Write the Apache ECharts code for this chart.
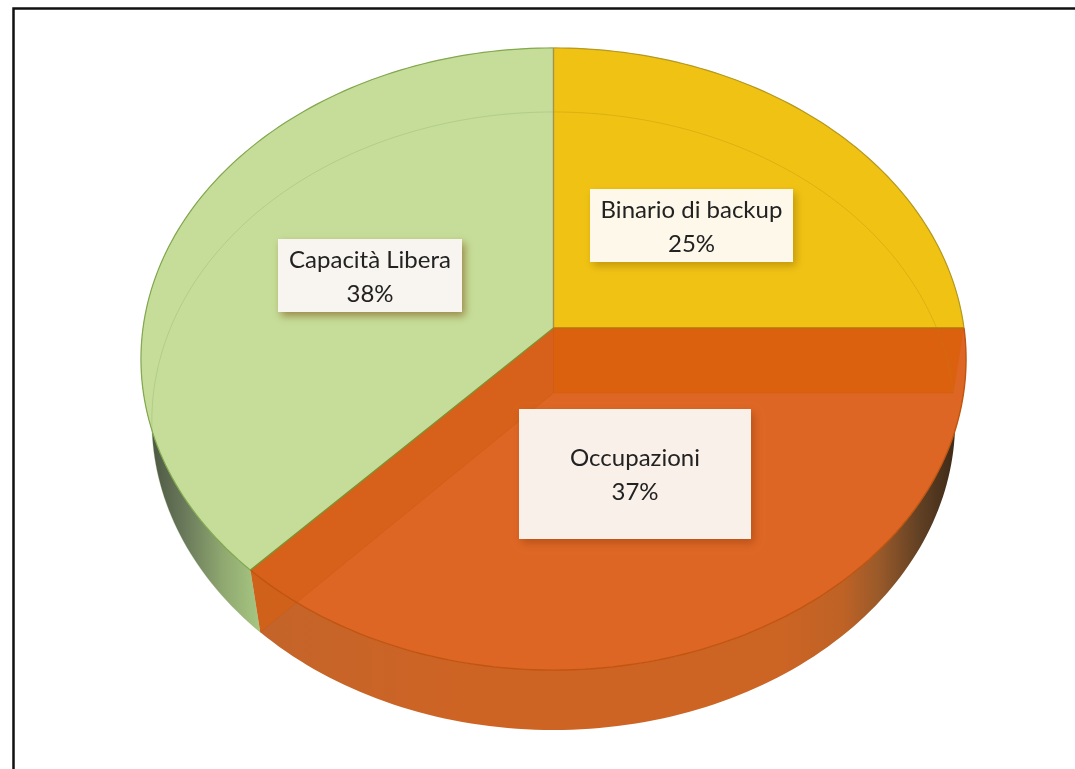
<!DOCTYPE html>
<html>
<head>
<meta charset="utf-8">
<style>html,body{margin:0;padding:0;background:#fff}#c{width:1075px;height:769px}</style>
<script src="https://cdn.jsdelivr.net/npm/echarts@6/dist/echarts.min.js"></script>
</head>
<body>
<div id="c"></div>
<script>
// Data, clockwise from 12 o'clock
const categories = ['Binario di backup', 'Occupazioni', 'Capacità Libera'];
const shares = [25, 37, 38];

// Styles
const topColors = ['#F0C214', '#DE6624', '#C5DD98'];
const edgeColors = ['#B49A20', '#C25A12', '#82A850'];
const labelFill = ['#FDF8EA', '#FAF0EA', '#F8F5F0'];
const labelShadow = ['rgba(150,110,0,.5)', 'rgba(130,50,5,.4)', 'rgba(120,70,10,.55)'];
const labelBoxes = [[590, 189, 203, 73], [519, 409, 232, 130], [278, 239, 184, 73]];

// Perspective planes of the disc: top face and bottom face
const TOP = {ax: 553.5, ay: 328, A: 410.5, B: 308, k: 0.0997};
const BASE = {ax: 553.5, ay: 393, A: 400, B: 306.5, k: 0.0906};
const total = shares.reduce((a, b) => a + b, 0);
const starts = shares.map((_, i) => shares.slice(0, i).reduce((a, b) => a + b, 0));

function proj(p, share) {
  const t = share / total * 2 * Math.PI;
  const u = Math.sin(t), v = Math.cos(t), w = 1 + p.k * v;
  return [p.ax + p.A * u / w, p.ay - p.B * v / w];
}
function arc(p, a, b) {
  const n = Math.max(8, Math.ceil(Math.abs(b - a) * 3)), pts = [];
  for (let i = 0; i <= n; i++) pts.push(proj(p, a + (b - a) * i / n));
  return pts;
}
const grad = (x, x2, stops) => ({type: 'linear', global: true, x, y: 0, x2, y2: 0,
  colorStops: stops.map(s => ({offset: s[0], color: s[1]}))});
const wallFills = [
  '#C9701A',
  grad(260, 955, [[0, '#C4642A'], [0.3, '#CE6424'], [0.75, '#CC6424'], [0.84, '#BE6226'], [0.89, '#9A5A2A'], [0.95, '#604024'], [1, '#3E2A18']]),
  grad(150, 262, [[0, '#4C5642'], [0.3, '#69785A'], [0.65, '#8FA870'], [1, '#A8C882']])
];
const poly = (points, style) => ({type: 'polygon', shape: {points}, style, silent: true});
const line = (points, stroke, lineWidth) => ({type: 'polyline', shape: {points}, style: {stroke, lineWidth, fill: null}, silent: true});

function walls(params) {
  const i = params.dataIndex, a = starts[i], b = a + shares[i];
  return poly(arc(TOP, a, b).concat(arc(BASE, a, b).reverse()), {fill: wallFills[i]});
}
function faces(params) {
  const i = params.dataIndex, a = starts[i], b = a + shares[i];
  return poly([[TOP.ax, TOP.ay]].concat(arc(TOP, a, b)), {fill: topColors[i]});
}
function inside(params) {
  // The orange slice shows its two cut walls through the top face
  const i = params.dataIndex;
  if (i !== 1) return null;
  const a = starts[i], b = a + shares[i];
  const c1 = [TOP.ax, TOP.ay], c2 = [BASE.ax, BASE.ay];
  const ch = [];
  ch.push(poly([c1, proj(TOP, b), proj(BASE, b), c2], {fill: 'rgba(212,96,22,.72)'}));
  ch.push(poly([c1, proj(TOP, a), proj(BASE, a), c2], {fill: '#DC610F'}));
  ch.push(line([c2, proj(BASE, a)], 'rgba(190,85,10,.3)', 1));
  ch.push(line([c2, proj(BASE, b)], 'rgba(190,85,10,.3)', 1));
  ch.push(line([c1, c2], 'rgba(190,85,10,.3)', 1));
  ch.push(line(arc(TOP, a, b), '#C05510', 1.4));
  return {type: 'group', children: ch, silent: true};
}
function edges(params) {
  const i = params.dataIndex, a = starts[i], b = a + shares[i];
  const ch = [];
  if (i !== 1) {
    ch.push(line(arc(BASE, a, b), i === 0 ? 'rgba(170,130,20,.28)' : 'rgba(130,160,100,.28)', 1));
    ch.push(line(arc(TOP, a, b), edgeColors[i], 1.2));
  }
  return {type: 'group', children: ch, silent: true};
}
function spokes(params) {
  const i = params.dataIndex, a = starts[i];
  const colors = ['#A8924A', '#B8700F', '#80902F'];
  return line([[TOP.ax, TOP.ay], proj(TOP, a)], colors[i], 1.4);
}
function labels(params) {
  const i = params.dataIndex, b = labelBoxes[i];
  return {type: 'group', silent: true, children: [
    {type: 'rect', shape: {x: b[0], y: b[1], width: b[2], height: b[3]},
     style: {fill: labelFill[i], shadowBlur: 8, shadowOffsetX: 3, shadowOffsetY: 4, shadowColor: labelShadow[i]}},
    {type: 'text', style: {x: b[0] + b[2] / 2, y: b[1] + b[3] / 2 + 1.5,
      text: categories[i] + '\n' + shares[i] + '%', fill: '#222', align: 'center', verticalAlign: 'middle',
      font: '24px Lato, "Open Sans", sans-serif', lineHeight: 34}}
  ]};
}

const rows = categories.map((c, i) => [c, shares[i]]);
const layer = (renderItem, z) => ({type: 'custom', coordinateSystem: 'none', data: rows, renderItem, z, animation: false, silent: true});

const chart = echarts.init(document.getElementById('c'), null, {renderer: 'canvas'});
chart.setOption({
  animation: false,
  backgroundColor: '#fff',
  tooltip: {show: false},
  graphic: [{type: 'rect', z: 100, silent: true, shape: {x: 13.5, y: 8.5, width: 1200, height: 900},
    style: {fill: null, stroke: '#111', lineWidth: 2.5}}],
  series: [
    layer(walls, 1), layer(faces, 2), layer(inside, 3), layer(edges, 4), layer(spokes, 5), layer(labels, 6)
  ]
});
</script>
</body>
</html>
